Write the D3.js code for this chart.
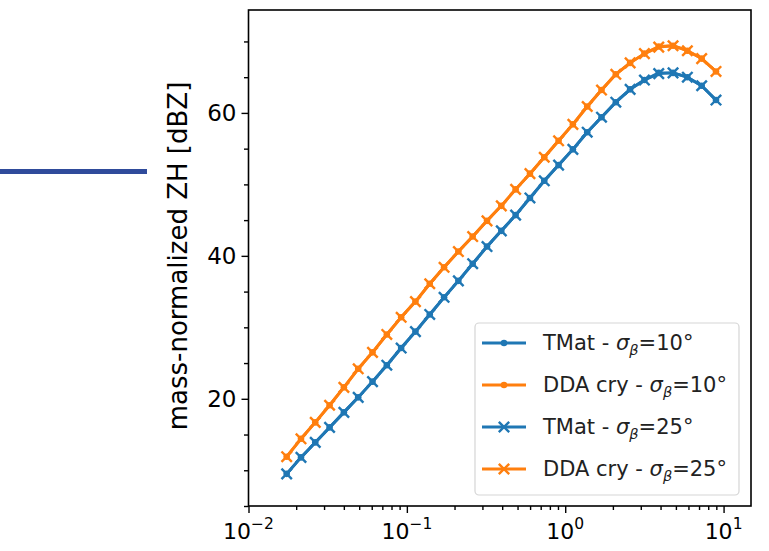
<!DOCTYPE html>
<html>
<head>
<meta charset="utf-8">
<script src="https://cdn.jsdelivr.net/npm/d3@7"></script>
<style>
  html, body { margin: 0; padding: 0; background: #ffffff; }
  svg { display: block; font-family: "DejaVu Sans", sans-serif; }
</style>
</head>
<body>
<svg id="chart" width="769" height="551"></svg>
<script>
// Particle size (log-spaced) and mass-normalized reflectivity per model
const sizes = [0.01742, 0.02145, 0.02640, 0.03251, 0.04003, 0.04929, 0.06069, 0.07472,
  0.09204, 0.1133, 0.1395, 0.1718, 0.2115, 0.2604, 0.3207, 0.3949, 0.4862, 0.5988,
  0.7375, 0.9080, 1.118, 1.377, 1.695, 2.087, 2.570, 3.164, 3.896, 4.797, 5.907, 7.273, 8.956];

const tmat10 = [9.5, 11.8, 13.9, 16.0, 18.1, 20.2, 22.4, 24.7, 27.1, 29.4, 31.8, 34.2, 36.5,
  38.9, 41.3, 43.5, 45.7, 48.1, 50.5, 52.7, 54.9, 57.3, 59.4, 61.5, 63.3, 64.6, 65.6, 65.6,
  65.0, 63.8, 61.8];
const dda10 = [11.9, 14.4, 16.7, 19.1, 21.6, 24.2, 26.5, 29.0, 31.4, 33.6, 36.1, 38.4, 40.6,
  42.7, 44.9, 47.0, 49.3, 51.5, 53.8, 56.1, 58.4, 60.9, 63.2, 65.4, 67.0, 68.3, 69.3, 69.4,
  68.7, 67.6, 65.8];
const tmat25 = [9.5, 11.8, 13.9, 16.0, 18.1, 20.2, 22.4, 24.7, 27.1, 29.4, 31.8, 34.2, 36.5,
  38.9, 41.3, 43.5, 45.7, 48.1, 50.5, 52.7, 54.9, 57.3, 59.4, 61.5, 63.3, 64.6, 65.5, 65.6,
  65.0, 63.8, 61.8];
const dda25 = [11.9, 14.4, 16.7, 19.1, 21.6, 24.2, 26.5, 29.0, 31.4, 33.6, 36.1, 38.4, 40.6,
  42.7, 44.9, 47.0, 49.3, 51.5, 53.8, 56.1, 58.4, 60.9, 63.2, 65.4, 67.0, 68.3, 69.2, 69.4,
  68.7, 67.6, 65.8];

const xMajorTicks = [0.01, 0.1, 1, 10];
const xTickExponents = ["\u22122", "\u22121", "0", "1"];
const yLabelTicks = [20, 40, 60];
const yLabel = "mass-normalized ZH [dBZ]";

const seriesNames = ["TMat", "DDA cry", "TMat", "DDA cry"];
const seriesSigma = ["10", "10", "25", "25"];
const seriesValues = [tmat10, dda10, tmat25, dda25];
const seriesColors = ["#1f77b4", "#ff7f0e", "#1f77b4", "#ff7f0e"];
const seriesMarkers = ["dot", "dot", "cross", "cross"];

const svg = d3.select("#chart");

// Decorative rule on the left of the figure
svg.append("rect").attr("x", 0).attr("y", 169).attr("width", 147).attr("height", 5)
  .attr("fill", "#2f4b9b");

const plot = { left: 248.5, right: 751, top: 10, bottom: 506 };

const x = d3.scaleLog().domain([0.01, 14.9]).range([plot.left, plot.right]);
const y = d3.scaleLinear().domain([5, 74.4]).range([plot.bottom, plot.top]);

// Plot frame
svg.append("rect")
  .attr("x", plot.left).attr("y", plot.top)
  .attr("width", plot.right - plot.left).attr("height", plot.bottom - plot.top)
  .attr("fill", "none").attr("stroke", "#000").attr("stroke-width", 1.6);

// X axis: major decades plus minor ticks
const xMinor = [];
[0.01, 0.1, 1, 10].forEach(dec => {
  for (let k = 2; k <= 9; k++) {
    const v = dec * k;
    if (v < x.domain()[1]) xMinor.push(v);
  }
});
const xAxisMajor = d3.axisBottom(x).tickValues(xMajorTicks).tickSize(7).tickFormat("");
const xAxisMinor = d3.axisBottom(x).tickValues(xMinor).tickSize(4).tickFormat("");
[xAxisMinor, xAxisMajor].forEach(ax => {
  const g = svg.append("g").attr("transform", `translate(0,${plot.bottom})`).call(ax);
  g.select(".domain").remove();
  g.selectAll(".tick line").attr("stroke", "#000").attr("stroke-width", 1.4);
});
const xl = svg.append("g");
xMajorTicks.forEach((v, i) => {
  const t = xl.append("text")
    .attr("x", x(v)).attr("y", 539)
    .attr("text-anchor", "middle")
    .attr("font-size", 22).attr("fill", "#000");
  t.append("tspan").text("10");
  t.append("tspan").attr("dy", -10).attr("font-size", 15.5).text(xTickExponents[i]);
});

// Y axis: labelled major ticks with minor ticks every 5
const yMinor = d3.range(5, 75, 5).filter(v => !yLabelTicks.includes(v));
const yAxisMajor = d3.axisLeft(y).tickValues(yLabelTicks).tickSize(7).tickPadding(5)
  .tickFormat(d3.format("d"));
const yAxisMinor = d3.axisLeft(y).tickValues(yMinor).tickSize(4.5).tickFormat("");
[yAxisMinor, yAxisMajor].forEach(ax => {
  const g = svg.append("g").attr("transform", `translate(${plot.left},0)`).call(ax);
  g.select(".domain").remove();
  g.selectAll(".tick line").attr("stroke", "#000").attr("stroke-width", 1.4);
  g.selectAll(".tick text").attr("font-size", 23).attr("fill", "#000")
    .attr("font-family", "DejaVu Sans, sans-serif");
});

svg.append("text")
  .attr("transform", `translate(187,256) rotate(-90)`)
  .attr("text-anchor", "middle")
  .attr("font-size", 26).attr("fill", "#000")
  .text(yLabel);

// Curves
const line = d3.line().x(d => x(d[0])).y(d => y(d[1]));
const crossPath = r => `M${-r},${-r}L${r},${r}M${-r},${r}L${r},${-r}`;

function drawMarker(g, type, color) {
  if (type === "dot") {
    g.append("circle").attr("r", 3.3).attr("fill", color);
  } else {
    g.append("path").attr("d", crossPath(5.2)).attr("stroke", color)
      .attr("stroke-width", 2.4).attr("fill", "none");
  }
}

seriesValues.forEach((vals, s) => {
  const pts = sizes.map((xv, i) => [xv, vals[i]]);
  const g = svg.append("g");
  g.append("path").datum(pts).attr("d", line)
    .attr("fill", "none").attr("stroke", seriesColors[s]).attr("stroke-width", 2.9)
    .attr("stroke-linejoin", "round");
  pts.forEach(p => {
    const m = g.append("g").attr("transform", `translate(${x(p[0])},${y(p[1])})`);
    drawMarker(m, seriesMarkers[s], seriesColors[s]);
  });
});

// Legend
const legend = svg.append("g");
legend.append("rect")
  .attr("x", 475).attr("y", 323).attr("width", 264).attr("height", 172).attr("rx", 4)
  .attr("fill", "#fff").attr("fill-opacity", 0.8)
  .attr("stroke", "#d5d5d5").attr("stroke-width", 1.2);
const rowY = [343, 385, 427, 469];
seriesNames.forEach((name, s) => {
  const ry = rowY[s];
  legend.append("line").attr("x1", 482).attr("x2", 526).attr("y1", ry).attr("y2", ry)
    .attr("stroke", seriesColors[s]).attr("stroke-width", 2.9);
  const m = legend.append("g").attr("transform", `translate(504,${ry})`);
  drawMarker(m, seriesMarkers[s], seriesColors[s]);
  const t = legend.append("text").attr("x", 543).attr("y", ry + 7)
    .attr("font-size", 21).attr("fill", "#222");
  t.append("tspan").text(name + " - ");
  t.append("tspan").attr("font-style", "italic").text("\u03c3");
  t.append("tspan").attr("font-style", "italic").attr("font-size", 14.5).attr("dy", 5).text("\u03b2");
  t.append("tspan").attr("dy", -5).text("=" + seriesSigma[s] + "\u00b0");
});
</script>
</body>
</html>
